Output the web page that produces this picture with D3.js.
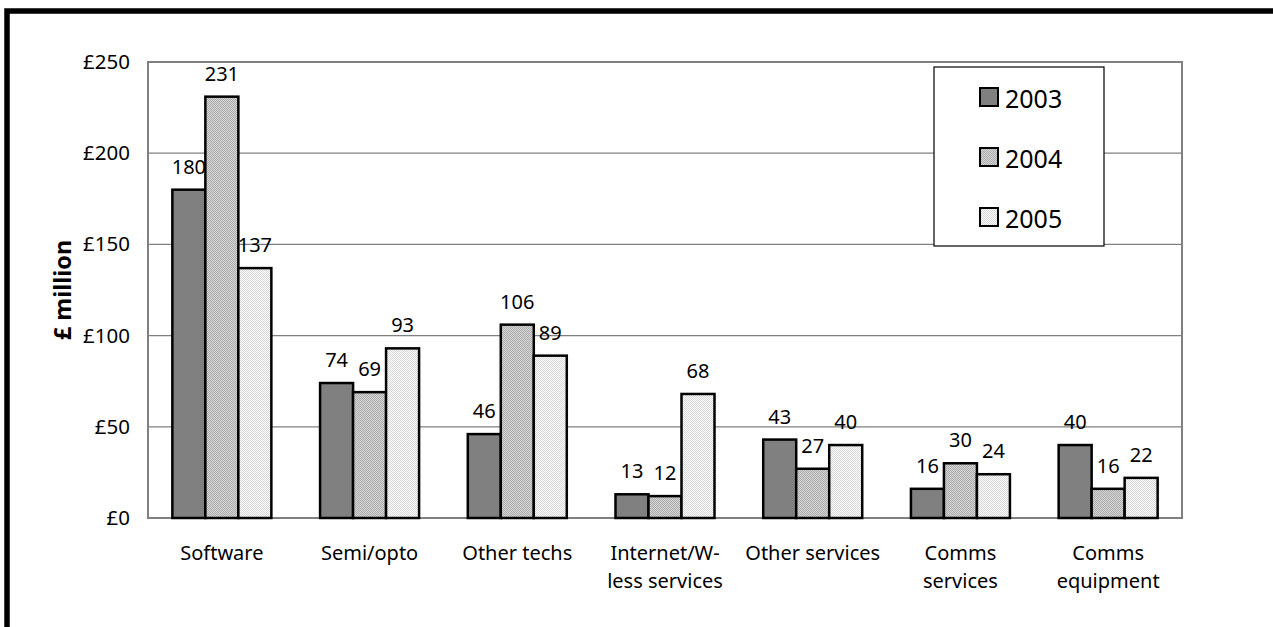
<!DOCTYPE html>
<html><head><meta charset="utf-8">
<script src="https://cdn.jsdelivr.net/npm/d3@7"></script>
<style>body{margin:0;background:#fff;}svg{display:block;}</style>
</head><body>
<svg id="chart" width="1273" height="627"></svg>
<script>
const categories = [["Software"],["Semi/opto"],["Other techs"],["Internet/W-","less services"],["Other services"],["Comms","services"],["Comms","equipment"]];
const seriesNames = ["2003","2004","2005"];
const values2003 = [180,74,46,13,43,16,40];
const values2004 = [231,69,106,12,27,30,16];
const values2005 = [137,93,89,68,40,24,22];
const yTicks = [0,50,100,150,200,250];
const yTickLabels = ["£0","£50","£100","£150","£200","£250"];
const yTitle = "£ million";

const allSeries = [values2003, values2004, values2005];
const svg = d3.select("#chart");
const FONT = "'Noto Sans', sans-serif";
const m = {l:148, t:62, r:1182, b:518};

// patterns
const defs = svg.append("defs");
function dotPattern(id, bg, dot){
  const p = defs.append("pattern").attr("id",id).attr("width",2).attr("height",2).attr("patternUnits","userSpaceOnUse");
  p.append("rect").attr("width",2).attr("height",2).attr("fill",bg);
  p.append("rect").attr("width",1).attr("height",1).attr("fill",dot);
  p.append("rect").attr("x",1).attr("y",1).attr("width",1).attr("height",1).attr("fill",dot);
}
defs.append("pattern").attr("id","p0").attr("width",2).attr("height",2).attr("patternUnits","userSpaceOnUse")
  .append("rect").attr("width",2).attr("height",2).attr("fill","#808080");
dotPattern("p1","#d4d4d4","#adadad");
dotPattern("p2","#ffffff","#d6d6d6");
const fills = ["url(#p0)","url(#p1)","url(#p2)"];

// outer border
svg.append("rect").attr("x",7).attr("y",11).attr("width",1300).attr("height",700)
  .attr("fill","none").attr("stroke","#000").attr("stroke-width",5.5);

const x0 = d3.scaleBand().domain(d3.range(categories.length)).range([m.l,m.r]).paddingInner(0).paddingOuter(0);
const groupW = 99;
const x1 = d3.scaleBand().domain(d3.range(seriesNames.length)).range([0,groupW]);
const y = d3.scaleLinear().domain([0,250]).range([m.b,m.t]);

// gridlines
svg.append("g").selectAll("line").data(yTicks.filter(d=>d>0 && d<250)).join("line")
  .attr("x1",m.l).attr("x2",m.r).attr("y1",d=>y(d)).attr("y2",d=>y(d))
  .attr("stroke","#808080").attr("stroke-width",1.2);

// plot frame
svg.append("rect").attr("x",m.l).attr("y",m.t).attr("width",m.r-m.l).attr("height",m.b-m.t)
  .attr("fill","none").attr("stroke","#808080").attr("stroke-width",2);

// y axis labels via axis
const yAxis = d3.axisLeft(y).tickValues(yTicks).tickFormat((d,i)=>yTickLabels[i]).tickSize(0).tickPadding(18);
const ya = svg.append("g").attr("transform",`translate(${m.l},0)`).call(yAxis);
ya.select(".domain").remove();
ya.selectAll("text").attr("font-family",FONT).attr("font-size",20.5).attr("fill","#000");

// y title
svg.append("text").attr("transform",`translate(71,${(m.t+m.b)/2}) rotate(-90)`)
  .attr("text-anchor","middle").attr("font-family",FONT).attr("font-size",23.5).attr("font-weight","bold").text(yTitle);

// bars
const g = svg.append("g");
categories.forEach((c,ci)=>{
  const gx = x0(ci) + (x0.bandwidth()-groupW)/2;
  allSeries.forEach((s,si)=>{
    const v = s[ci];
    g.append("rect").attr("x",gx+x1(si)).attr("y",y(v)).attr("width",x1.bandwidth()).attr("height",m.b-y(v))
      .attr("fill",fills[si]).attr("stroke","#000").attr("stroke-width",2.5);
    g.append("text").attr("x",gx+x1(si)+x1.bandwidth()/2).attr("y",y(v)-16)
      .attr("text-anchor","middle").attr("font-family",FONT).attr("font-size",20).text(v);
  });
});

// x labels
categories.forEach((c,ci)=>{
  const t = svg.append("text").attr("x",x0(ci)+x0.bandwidth()/2).attr("y",560)
    .attr("text-anchor","middle").attr("font-family",FONT).attr("font-size",20);
  c.forEach((line,li)=>t.append("tspan").attr("x",x0(ci)+x0.bandwidth()/2).attr("dy",li?28:0).text(line));
});

// legend
const lg = svg.append("g");
lg.append("rect").attr("x",934).attr("y",67).attr("width",170).attr("height",179).attr("fill","#fff").attr("stroke","#000").attr("stroke-width",1.2);
seriesNames.forEach((n,i)=>{
  const top = 88 + i*60;
  lg.append("rect").attr("x",980).attr("y",top).attr("width",18).attr("height",18).attr("fill",fills[i]).attr("stroke","#000").attr("stroke-width",2);
  lg.append("text").attr("x",1005).attr("y",top+20).attr("font-family",FONT).attr("font-size",25).text(n);
});
</script>
</body></html>
